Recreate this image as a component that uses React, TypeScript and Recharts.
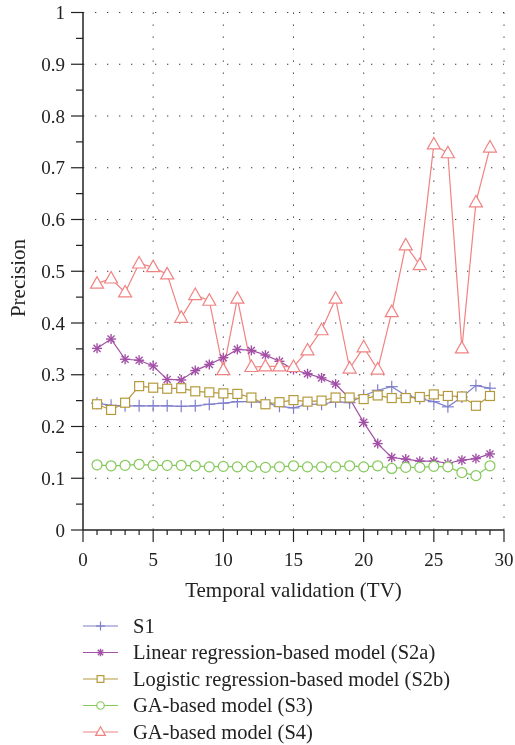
import React from 'react';
import { LineChart, Line, XAxis, YAxis, CartesianGrid, Legend } from 'recharts';

const tv = [1, 2, 3, 4, 5, 6, 7, 8, 9, 10, 11, 12, 13, 14, 15, 16, 17, 18, 19, 20, 21, 22, 23, 24, 25, 26, 27, 28, 29];
const s1 = [0.245, 0.241, 0.24, 0.24, 0.24, 0.24, 0.239, 0.24, 0.243, 0.245, 0.248, 0.248, 0.246, 0.239, 0.236, 0.243, 0.243, 0.248, 0.246, 0.26, 0.27, 0.277, 0.26, 0.254, 0.248, 0.238, 0.257, 0.279, 0.274];
const s2a = [0.351, 0.369, 0.33, 0.328, 0.317, 0.291, 0.29, 0.308, 0.32, 0.333, 0.349, 0.347, 0.338, 0.326, 0.31, 0.302, 0.294, 0.282, 0.254, 0.208, 0.167, 0.14, 0.137, 0.133, 0.133, 0.129, 0.135, 0.138, 0.147];
const s2b = [0.243, 0.232, 0.246, 0.278, 0.275, 0.273, 0.274, 0.268, 0.266, 0.264, 0.263, 0.256, 0.243, 0.247, 0.251, 0.248, 0.25, 0.256, 0.256, 0.253, 0.26, 0.255, 0.255, 0.257, 0.262, 0.259, 0.258, 0.24, 0.259];
const s3 = [0.126, 0.124, 0.125, 0.127, 0.125, 0.125, 0.125, 0.124, 0.122, 0.123, 0.122, 0.123, 0.121, 0.122, 0.124, 0.122, 0.122, 0.122, 0.124, 0.122, 0.124, 0.119, 0.121, 0.121, 0.123, 0.122, 0.111, 0.105, 0.124];
const s4 = [0.476, 0.486, 0.459, 0.515, 0.508, 0.494, 0.41, 0.454, 0.443, 0.309, 0.447, 0.315, 0.316, 0.316, 0.315, 0.347, 0.386, 0.447, 0.312, 0.353, 0.31, 0.421, 0.55, 0.512, 0.745, 0.728, 0.351, 0.633, 0.739];

const xTicks = [0, 1, 2, 3, 4, 5, 6, 7, 8, 9, 10, 11, 12, 13, 14, 15, 16, 17, 18, 19, 20, 21, 22, 23, 24, 25, 26, 27, 28, 29, 30];
const yTicks = [0, 0.05, 0.1, 0.15, 0.2, 0.25, 0.3, 0.35, 0.4, 0.45, 0.5, 0.55, 0.6, 0.65, 0.7, 0.75, 0.8, 0.85, 0.9, 0.95, 1];
const xGrid = [5, 10, 15, 20, 25, 30];
const yGrid = [0.1, 0.2, 0.3, 0.4, 0.5, 0.6, 0.7, 0.8, 0.9, 1];

const seriesKeys = ['s1', 's2a', 's2b', 's3', 's4'];
const seriesNames = ['S1', 'Linear regression-based model (S2a)', 'Logistic regression-based model (S2b)', 'GA-based model (S3)', 'GA-based model (S4)'];
const seriesColors = ['#7f7fcc', '#a24fa6', '#b59a3c', '#84c95a', '#f08282'];
const seriesShapes = ['plus', 'star', 'square', 'circle', 'triangle'];

const data = tv.map((t, i) => ({ tv: t, s1: s1[i], s2a: s2a[i], s2b: s2b[i], s3: s3[i], s4: s4[i] }));

const FONT = "'Liberation Serif', 'DejaVu Serif', serif";
const AXIS = '#222';
const textStyle = { fontFamily: FONT };

function Marker({ shape, cx, cy, color, s = 1 }: any) {
  const sw = 1.2;
  if (shape === 'plus') {
    const r = 6 * s;
    return (
      <g stroke={color} strokeWidth={sw} fill="none">
        <line x1={cx - r} x2={cx + r} y1={cy} y2={cy} />
        <line x1={cx} x2={cx} y1={cy - r} y2={cy + r} />
      </g>
    );
  }
  if (shape === 'star') {
    const r = 5 * s;
    const d = r * 0.7071;
    return (
      <g stroke={color} strokeWidth={sw + 0.2} fill="none">
        <line x1={cx - r} x2={cx + r} y1={cy} y2={cy} />
        <line x1={cx} x2={cx} y1={cy - r} y2={cy + r} />
        <line x1={cx - d} x2={cx + d} y1={cy - d} y2={cy + d} />
        <line x1={cx - d} x2={cx + d} y1={cy + d} y2={cy - d} />
      </g>
    );
  }
  if (shape === 'square') {
    const h = 4.5 * s;
    return <rect x={cx - h} y={cy - h} width={2 * h} height={2 * h} stroke={color} strokeWidth={sw} fill="#fff" />;
  }
  if (shape === 'circle') {
    return <circle cx={cx} cy={cy} r={5 * s} stroke={color} strokeWidth={sw} fill="#fff" />;
  }
  const w = 6.5 * s;
  const pts = `${cx},${cy - 7 * s} ${cx - w},${cy + 4.5 * s} ${cx + w},${cy + 4.5 * s}`;
  return <polygon points={pts} stroke={color} strokeWidth={sw} fill="#fff" />;
}

const XTick = (props: any) => {
  const { x, y, payload } = props;
  const v = payload.value;
  const major = v % 5 === 0;
  return (
    <g>
      <line x1={x} x2={x} y1={y} y2={y + (major ? 12 : 5)} stroke={AXIS} strokeWidth={1.2} />
      {major && (
        <text x={x} y={y + 23} dy="0.71em" textAnchor="middle" style={textStyle} fontSize={19} fill="#222">
          {v}
        </text>
      )}
    </g>
  );
};

const YTick = (props: any) => {
  const { x, y, payload } = props;
  const v = payload.value;
  const major = Math.round(v * 100) % 10 === 0;
  const label = Math.round(v * 10) / 10;
  return (
    <g>
      <line x1={x} x2={x - (major ? 12 : 7)} y1={y} y2={y} stroke={AXIS} strokeWidth={1.2} />
      {major && (
        <text x={x - 18} y={y} dy="0.35em" textAnchor="end" style={textStyle} fontSize={19} fill="#222">
          {String(label)}
        </text>
      )}
    </g>
  );
};

const LegendContent = () => (
  <svg width={507} height={147} style={{ display: 'block', overflow: 'visible' }}>
    {seriesNames.map((name, i) => {
      const cy = 28 + 26.5 * i;
      return (
        <g key={name}>
          <line x1={75} x2={110} y1={cy} y2={cy} stroke={seriesColors[i]} strokeWidth={1.2} />
          <Marker shape={seriesShapes[i]} cx={92.5} cy={cy} color={seriesColors[i]} s={0.75} />
          <text x={125} y={cy + 6.5} style={textStyle} fontSize={20.5} fill="#222">
            {name}
          </text>
        </g>
      );
    })}
  </svg>
);

export default function App() {
  return (
    <div style={{ position: 'fixed', left: 8, top: 8, width: 507, height: 737 }}>
      <style>{'.recharts-surface{overflow:visible}'}</style>
      <LineChart
        width={507}
        height={737}
        data={data}
        margin={{ top: 4.5, right: 11, left: 0, bottom: 145 }}
      >
        <CartesianGrid
          horizontalValues={yGrid}
          verticalValues={xGrid}
          stroke="#333"
          strokeWidth={1}
          strokeDasharray="1.3 10.7"
        />
        <XAxis
          dataKey="tv"
          type="number"
          domain={[0, 30]}
          ticks={xTicks}
          interval={0}
          height={70}
          tickSize={0}
          tickMargin={0}
          tickLine={false}
          tick={<XTick />}
          axisLine={{ stroke: AXIS, strokeWidth: 1.5 }}
          label={(p: any) => {
            const vb = p.viewBox;
            return (
              <text x={vb.x + vb.width / 2} y={589} textAnchor="middle" style={textStyle} fontSize={21} fill="#222">
                Temporal validation (TV)
              </text>
            );
          }}
        />
        <YAxis
          type="number"
          domain={[0, 1]}
          ticks={yTicks}
          interval={0}
          width={75}
          tickSize={0}
          tickMargin={0}
          tickLine={false}
          tick={<YTick />}
          axisLine={{ stroke: AXIS, strokeWidth: 1.5 }}
          label={() => (
            <text x={17} y={270} transform="rotate(-90, 17, 270)" textAnchor="middle" style={textStyle} fontSize={21} fill="#222">
              Precision
            </text>
          )}
        />
        {seriesKeys.map((k, i) => (
          <Line
            key={k}
            type="linear"
            dataKey={k}
            name={seriesNames[i]}
            stroke={seriesColors[i]}
            strokeWidth={1.2}
            isAnimationActive={false}
            dot={(p: any) => <Marker key={`${k}-${p.index}`} shape={seriesShapes[i]} cx={p.cx} cy={p.cy} color={seriesColors[i]} />}
            activeDot={false}
          />
        ))}
        <Legend
          layout="vertical"
          align="center"
          verticalAlign="middle"
          content={<LegendContent />}
          wrapperStyle={{ position: 'absolute', left: 0, top: 590, width: 507, height: 147 }}
        />
      </LineChart>
    </div>
  );
}
